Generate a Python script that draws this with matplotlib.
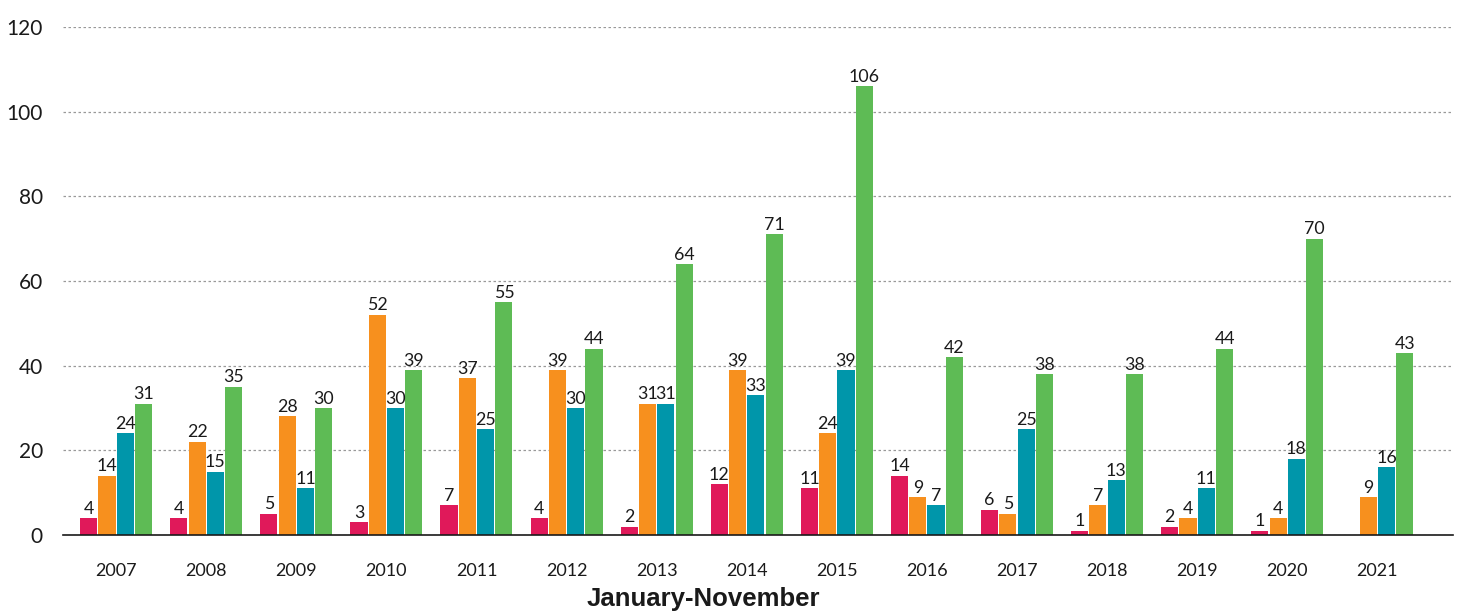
import numpy as np
import matplotlib
matplotlib.use("Agg")
import matplotlib.pyplot as plt

years = ["2007", "2008", "2009", "2010", "2011", "2012", "2013", "2014",
         "2015", "2016", "2017", "2018", "2019", "2020", "2021"]
pink = [4, 4, 5, 3, 7, 4, 2, 12, 11, 14, 6, 1, 2, 1, None]
orange = [14, 22, 28, 52, 37, 39, 31, 39, 24, 9, 5, 7, 4, 4, 9]
teal = [24, 15, 11, 30, 25, 30, 31, 33, 39, 7, 25, 13, 11, 18, 16]
green = [31, 35, 30, 39, 55, 44, 64, 71, 106, 42, 38, 38, 44, 70, 43]
yticks = [0, 20, 40, 60, 80, 100, 120]
xlabel = "January-November"

series = [pink, orange, teal, green]
colors = ["#E0195A", "#F7901E", "#0096AA", "#5EBB55"]

plt.rcParams['font.family'] = ['Lato', 'DejaVu Sans']

W, H = 1461, 614
fig = plt.figure(figsize=(W / 100, H / 100), dpi=100)
ax = fig.add_axes([63 / W, 1 - 535 / H, (1453 - 63) / W, (535 - 27) / H])

x = np.arange(len(years))
step = 0.203
width = 0.19
for i, (vals, c) in enumerate(zip(series, colors)):
    off = (i - 1.5) * step
    for xi, v in zip(x, vals):
        if v is None:
            continue
        ax.bar(xi + off, v, width=width, color=c, zorder=3)
        ax.annotate(str(v), (xi + off, v), xytext=(0, 1), textcoords="offset points",
                    ha="center", va="bottom", fontsize=12.8, color="#1a1a1a", zorder=4)

ax.set_xlim(-0.59, 14.84)
ax.set_ylim(0, 120)
ax.set_yticks(yticks)
ax.set_yticklabels([str(t) for t in yticks], fontsize=15, color="#1a1a1a")
ax.set_xticks(x)
ax.set_xticklabels(years, fontsize=13, color="#1a1a1a")
ax.tick_params(axis="x", length=0, pad=20)
ax.tick_params(axis="y", length=0, pad=14.5)
ax.grid(axis="y", linestyle=(0, (2, 2)), color="#999999", linewidth=0.9, zorder=0)
for s in ["top", "right", "left"]:
    ax.spines[s].set_visible(False)
ax.spines["bottom"].set_color("#1a1a1a")
ax.spines["bottom"].set_linewidth(1.2)
ax.spines["bottom"].set_zorder(5)

fig.text(703.5 / W, 1 - 599 / H, xlabel, fontsize=18.5, fontweight="bold",
         family=["Liberation Sans", "DejaVu Sans"], ha="center", va="center", color="#1a1a1a")

fig.savefig("out.png", dpi=100)
